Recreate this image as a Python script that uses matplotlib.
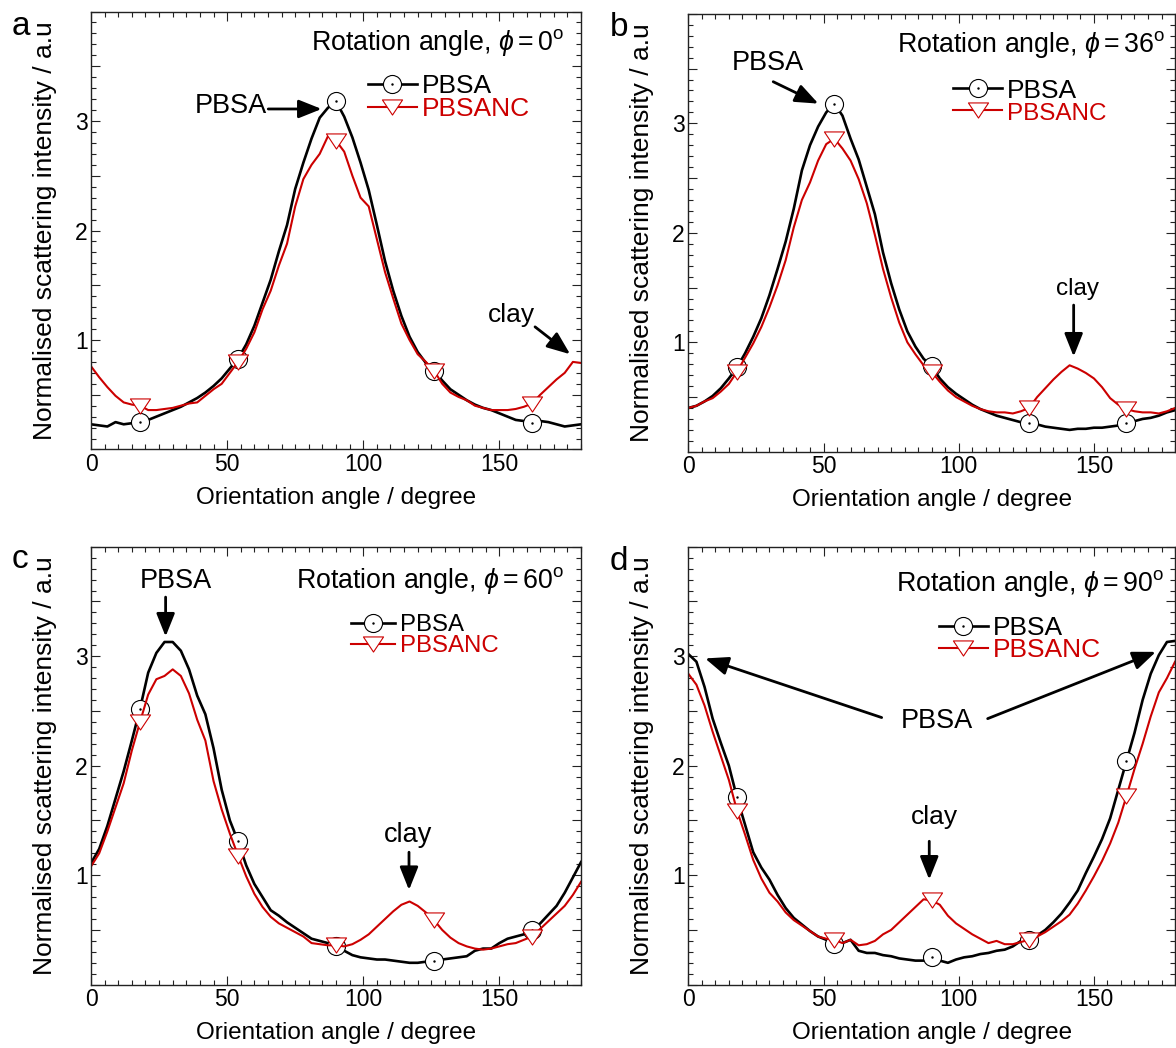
import numpy as np
import matplotlib.pyplot as plt
from matplotlib.path import Path
from matplotlib.ticker import MultipleLocator, FuncFormatter

plt.rcParams['font.family'] = 'Liberation Sans'
plt.rcParams['mathtext.fontset'] = 'custom'
plt.rcParams['mathtext.rm'] = 'Liberation Sans'
plt.rcParams['mathtext.it'] = 'Liberation Sans:italic'

# orientation angle (degree), one reading every 3 degrees
angle = np.arange(0, 181, 3)

# panel a, rotation angle 0
a_pbsa = [0.23, 0.22, 0.21, 0.25, 0.23, 0.24, 0.25, 0.27, 0.30, 0.33,
          0.36, 0.39, 0.43, 0.47, 0.52, 0.58, 0.65, 0.74, 0.83, 0.96,
          1.13, 1.34, 1.55, 1.81, 2.05, 2.38, 2.62, 2.84, 3.03, 3.12,
          3.18, 3.04, 2.85, 2.62, 2.37, 2.05, 1.72, 1.45, 1.22, 1.03,
          0.89, 0.79, 0.72, 0.63, 0.55, 0.50, 0.45, 0.41, 0.38, 0.36,
          0.33, 0.30, 0.27, 0.26, 0.24, 0.26, 0.25, 0.23, 0.21, 0.22,
          0.23]
a_pbsanc = [0.76, 0.66, 0.57, 0.49, 0.43, 0.41, 0.40, 0.36, 0.36, 0.37,
            0.38, 0.40, 0.42, 0.43, 0.49, 0.55, 0.60, 0.70, 0.80, 0.92,
            1.07, 1.28, 1.45, 1.68, 1.88, 2.22, 2.47, 2.60, 2.70, 2.86,
            2.82, 2.72, 2.50, 2.30, 2.22, 1.92, 1.62, 1.38, 1.15, 1.00,
            0.87, 0.80, 0.72, 0.60, 0.52, 0.48, 0.45, 0.40, 0.38, 0.36,
            0.36, 0.36, 0.37, 0.39, 0.42, 0.50, 0.57, 0.64, 0.70, 0.80,
            0.79]

# panel b, rotation angle 36
b_pbsa = [0.40, 0.42, 0.46, 0.51, 0.58, 0.67, 0.77, 0.90, 1.05, 1.22,
          1.43, 1.67, 1.92, 2.22, 2.57, 2.80, 2.97, 3.10, 3.18, 3.07,
          2.86, 2.67, 2.42, 2.17, 1.82, 1.54, 1.30, 1.10, 0.96, 0.85,
          0.78, 0.67, 0.59, 0.53, 0.48, 0.43, 0.39, 0.36, 0.33, 0.31,
          0.29, 0.27, 0.26, 0.25, 0.23, 0.22, 0.21, 0.20, 0.21, 0.21,
          0.22, 0.22, 0.23, 0.24, 0.26, 0.28, 0.30, 0.31, 0.33, 0.36,
          0.38]
b_pbsanc = [0.40, 0.42, 0.46, 0.49, 0.55, 0.62, 0.73, 0.86, 0.99, 1.14,
            1.32, 1.52, 1.75, 2.05, 2.30, 2.46, 2.66, 2.81, 2.86, 2.77,
            2.66, 2.49, 2.27, 1.98, 1.67, 1.41, 1.18, 1.00, 0.89, 0.79,
            0.73, 0.64, 0.56, 0.50, 0.46, 0.42, 0.39, 0.37, 0.36, 0.36,
            0.35, 0.37, 0.40, 0.50, 0.58, 0.66, 0.73, 0.79, 0.76, 0.72,
            0.67, 0.59, 0.49, 0.43, 0.39, 0.37, 0.36, 0.36, 0.35, 0.37,
            0.40]

# panel c, rotation angle 60
c_pbsa = [1.11, 1.24, 1.45, 1.70, 1.95, 2.23, 2.52, 2.85, 3.03, 3.13,
          3.13, 3.05, 2.88, 2.64, 2.47, 2.16, 1.78, 1.50, 1.31, 1.09,
          0.92, 0.80, 0.68, 0.63, 0.57, 0.52, 0.47, 0.42, 0.40, 0.38,
          0.35, 0.31, 0.27, 0.25, 0.24, 0.23, 0.23, 0.22, 0.21, 0.20,
          0.20, 0.21, 0.22, 0.23, 0.24, 0.25, 0.26, 0.31, 0.33, 0.33,
          0.38, 0.42, 0.44, 0.46, 0.50, 0.56, 0.64, 0.72, 0.84, 0.98,
          1.12]
c_pbsanc = [1.08, 1.20, 1.40, 1.62, 1.84, 2.14, 2.40, 2.65, 2.79, 2.82,
            2.88, 2.82, 2.66, 2.42, 2.23, 1.86, 1.60, 1.38, 1.18, 0.99,
            0.83, 0.71, 0.62, 0.56, 0.52, 0.48, 0.44, 0.38, 0.37, 0.36,
            0.36, 0.35, 0.37, 0.41, 0.46, 0.53, 0.60, 0.67, 0.73, 0.76,
            0.72, 0.66, 0.59, 0.50, 0.43, 0.38, 0.35, 0.33, 0.32, 0.33,
            0.35, 0.37, 0.38, 0.41, 0.44, 0.51, 0.58, 0.65, 0.72, 0.82,
            0.94]

# panel d, rotation angle 90
d_pbsa = [3.02, 2.95, 2.72, 2.43, 2.21, 2.00, 1.71, 1.46, 1.21, 1.07,
          0.96, 0.82, 0.70, 0.61, 0.55, 0.49, 0.44, 0.41, 0.37, 0.38,
          0.41, 0.31, 0.29, 0.29, 0.27, 0.26, 0.24, 0.23, 0.22, 0.22,
          0.25, 0.22, 0.20, 0.23, 0.25, 0.26, 0.28, 0.29, 0.31, 0.32,
          0.35, 0.40, 0.41, 0.45, 0.50, 0.57, 0.65, 0.75, 0.86, 1.02,
          1.17, 1.33, 1.52, 1.78, 2.04, 2.30, 2.60, 2.84, 3.01, 3.13,
          3.14]
d_pbsanc = [2.84, 2.74, 2.55, 2.31, 2.09, 1.87, 1.59, 1.37, 1.14, 0.97,
            0.84, 0.76, 0.66, 0.59, 0.54, 0.49, 0.44, 0.42, 0.41, 0.38,
            0.41, 0.36, 0.37, 0.40, 0.46, 0.50, 0.57, 0.64, 0.71, 0.78,
            0.77, 0.73, 0.63, 0.56, 0.51, 0.46, 0.42, 0.38, 0.40, 0.37,
            0.37, 0.39, 0.41, 0.44, 0.48, 0.53, 0.58, 0.64, 0.74, 0.86,
            0.99, 1.13, 1.29, 1.48, 1.72, 1.97, 2.20, 2.45, 2.67, 2.80,
            2.95]

red = '#cc0000'
tri = Path([(-1, 0.75), (1, 0.75), (0, -0.75), (-1, 0.75)], closed=True)
marks = slice(6, None, 12)   # symbols at 18, 54, 90, 126, 162


def ylab(v, pos):
    if abs(v - round(v)) < 1e-6 and 1 <= v <= 3:
        return '%d' % round(v)
    return ''


def panel(rect, pbsa, pbsanc, rot, leg_xy, leg_fs, title_xy):
    ax = fig.add_axes(rect)
    l1, = ax.plot(angle, pbsa, color='k', lw=1.9, marker='o', ms=13,
                  mfc='white', mec='k', mew=0.8, markevery=marks)
    d1, = ax.plot(angle, pbsa, ls='none', marker='.', ms=1.5, color='k',
                  markevery=marks)
    l2, = ax.plot(angle, pbsanc, color=red, lw=1.5, marker=tri, ms=14.5,
                  mfc='white', mec=red, mew=0.8, markevery=marks)
    ax.set_xlim(0, 180)
    ax.set_ylim(0, 4)
    ax.xaxis.set_major_locator(MultipleLocator(50))
    ax.xaxis.set_minor_locator(MultipleLocator(5))
    ax.yaxis.set_major_locator(MultipleLocator(0.5))
    ax.yaxis.set_minor_locator(MultipleLocator(0.1))
    ax.yaxis.set_major_formatter(FuncFormatter(ylab))
    ax.tick_params(which='both', direction='in', top=True, right=True,
                   width=0.8, color='#222222')
    ax.tick_params(which='major', length=6.5, labelsize=16.5)
    ax.tick_params(which='minor', length=3.5)
    ax.tick_params(axis='x', pad=2.5)
    ax.tick_params(axis='y', pad=2.5)
    for s in ax.spines.values():
        s.set_linewidth(1.0)
        s.set_color('#222222')
    ax.set_xlabel('Orientation angle / degree', fontsize=17.5, labelpad=8)
    ax.set_ylabel('Normalised scattering intensity / a.u', fontsize=19,
                  labelpad=13)
    ax.text(title_xy[0], title_xy[1],
            r'Rotation angle, $\phi = %d^{\mathrm{o}}$' % rot,
            fontsize=19.3, ha='right', va='baseline')
    leg = ax.legend([(l1, d1), l2], ['PBSA', 'PBSANC'], loc='center left',
                    bbox_to_anchor=leg_xy, frameon=False, borderpad=0,
                    borderaxespad=0, handlelength=1.85, handletextpad=0.2,
                    labelspacing=-0.05, fontsize=max(leg_fs), numpoints=1)
    for t, c, f in zip(leg.get_texts(), ['k', red], leg_fs):
        t.set_color(c)
        t.set_fontsize(f)
    return ax


def arrow(ax, tail, tip):
    ax.annotate('', xy=tip, xytext=tail,
                arrowprops=dict(arrowstyle='-|>,head_length=0.7,head_width=0.28',
                                mutation_scale=20, lw=2, color='k',
                                shrinkA=0, shrinkB=0))


fig = plt.figure(figsize=(11.76, 10.48), dpi=100)

ax = panel([0.0774, 0.5711, 0.4167, 0.4179], a_pbsa, a_pbsanc, 0,
           (0.5653, 0.8037), [19, 19], (174, 3.65))
ax.text(51.4, 3.135, 'PBSA', fontsize=19.5, ha='center', va='center')
arrow(ax, (65.1, 3.11), (84.7, 3.11))
ax.text(154.3, 1.23, 'clay', fontsize=19, ha='center', va='center')
arrow(ax, (163.1, 1.12), (176, 0.87))

ax = panel([0.5853, 0.5689, 0.4139, 0.4179], b_pbsa, b_pbsanc, 36,
           (0.544, 0.7995), [19, 17.5], (176.6, 3.65))
ax.text(29.6, 3.555, 'PBSA', fontsize=19.5, ha='center', va='center')
arrow(ax, (31.4, 3.38), (48.1, 3.18))
ax.text(143.9, 1.49, 'clay', fontsize=17.5, ha='center', va='center')
arrow(ax, (142.5, 1.34), (142.5, 0.87))

ax = panel([0.0774, 0.0604, 0.4167, 0.4179], c_pbsa, c_pbsanc, 60,
           (0.5306, 0.7966), [17.3, 17.3], (174, 3.62))
ax.text(31.1, 3.69, 'PBSA', fontsize=19.5, ha='center', va='center')
arrow(ax, (27.4, 3.54), (27.4, 3.18))
ax.text(116.6, 1.37, 'clay', fontsize=19.5, ha='center', va='center')
arrow(ax, (116.8, 1.21), (116.8, 0.865))

ax = panel([0.5853, 0.0604, 0.4139, 0.4179], d_pbsa, d_pbsanc, 90,
           (0.5151, 0.789), [19, 19], (176, 3.60))
ax.text(91.9, 2.41, 'PBSA', fontsize=19.5, ha='center', va='center')
arrow(ax, (71.5, 2.44), (6.2, 2.98))
arrow(ax, (110.7, 2.43), (172.9, 3.04))
ax.text(91.1, 1.53, 'clay', fontsize=19, ha='center', va='center')
arrow(ax, (89.1, 1.31), (89.1, 0.96))

for lab, x, y in [('a', 12, 35), ('b', 610, 36), ('c', 12, 568), ('d', 610, 570)]:
    fig.text(x / 1176, 1 - y / 1048, lab, fontsize=24, ha='left', va='baseline')

fig.savefig('out.png', dpi=100)
